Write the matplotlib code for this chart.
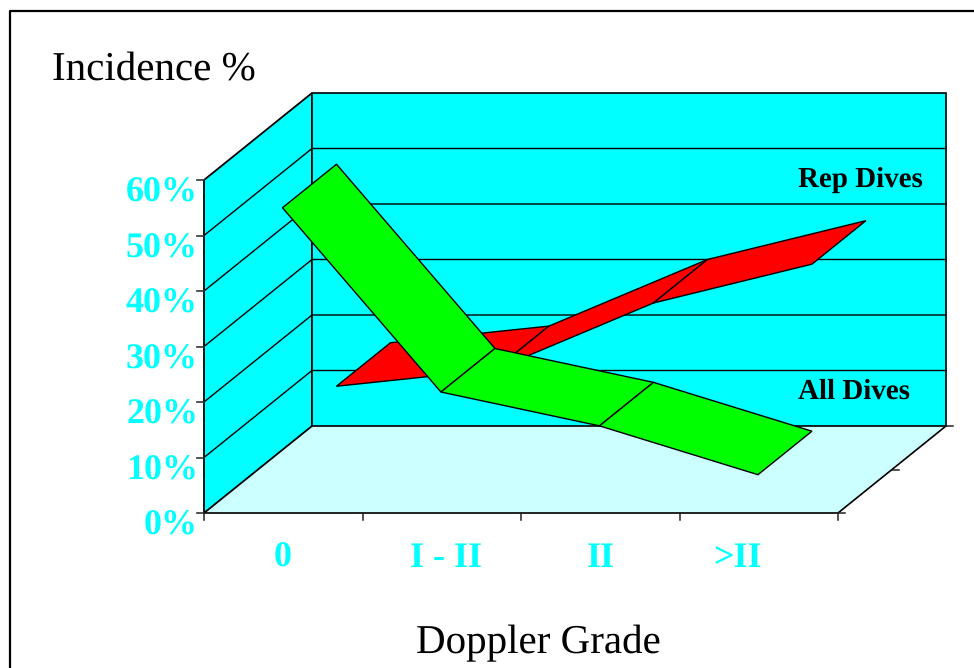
import matplotlib
matplotlib.use("Agg")
import matplotlib.pyplot as plt
from matplotlib.patches import Polygon

plt.rcParams['text.hinting'] = 'no_hinting'
plt.rcParams['text.hinting_factor'] = 1

categories = ['0', 'I - II', 'II', '>II']
all_dives = [55, 21.8, 15.7, 6.9]
rep_dives = [15, 18, 30, 37]
y_ticks = [0, 10, 20, 30, 40, 50, 60]

# pixel geometry of the fake 3D box
X0, Y0 = 204, 513
CAT_W = 158.5
DX, DY = 108, -87
PX_PER_PCT = 5.55
LABEL_NUDGE = [-1, 4, 1, -21]

CYAN = '#00ffff'
FLOOR = '#ccffff'
SERIF = 'Liberation Serif'


def proj(cat, depth, value):
    """cat in category widths, depth 0 (front) to 1 (back), value in %."""
    return (X0 + cat * CAT_W + depth * DX,
            Y0 + depth * DY - value * PX_PER_PCT)


def ribbon(ax, values, d_front, d_back, color, z):
    for i in range(len(values) - 1):
        pts = [proj(i + 0.495, d_front, values[i]),
               proj(i + 1.495, d_front, values[i + 1]),
               proj(i + 1.495, d_back, values[i + 1]),
               proj(i + 0.495, d_back, values[i])]
        ax.add_patch(Polygon(pts, closed=True, facecolor=color,
                             edgecolor='black', lw=1.0, zorder=z + i * 0.01))


fig = plt.figure(figsize=(9.74, 6.68), dpi=100)
ax = fig.add_axes([0, 0, 1, 1])
ax.set_xlim(0, 974)
ax.set_ylim(668, 0)
ax.axis('off')

# outer frame, runs off the image on the right and bottom
ax.plot([9.5, 9.5, 974], [668, 11, 11], color='black', lw=1.6, zorder=1)

top = y_ticks[-1]
n = len(categories)
ax.add_patch(Polygon([proj(0, 0, 0), proj(n, 0, 0), proj(n, 1, 0), proj(0, 1, 0)],
                     facecolor=FLOOR, edgecolor='none', zorder=2))
ax.add_patch(Polygon([proj(0, 0, 0), proj(0, 1, 0), proj(0, 1, top), proj(0, 0, top)],
                     facecolor=CYAN, edgecolor='black', lw=1.3, zorder=2))
ax.add_patch(Polygon([proj(0, 1, 0), proj(n, 1, 0), proj(n, 1, top), proj(0, 1, top)],
                     facecolor=CYAN, edgecolor='black', lw=1.2, zorder=2))

for v in y_ticks[1:-1]:
    a, b, c = proj(0, 0, v), proj(0, 1, v), proj(n, 1, v)
    ax.plot([a[0], b[0], c[0]], [a[1], b[1], c[1]], color='black', lw=1.0, zorder=3)

# front and right floor edges
a, b, c = proj(0, 0, 0), proj(n, 0, 0), proj(n, 1, 0)
ax.plot([a[0], b[0], c[0]], [a[1], b[1], c[1]], color='black', lw=1.2, zorder=3)

# ticks
for v in y_ticks:
    x, y = proj(0, 0, v)
    ax.plot([x - 7, x], [y, y], color='#333333', lw=1.2, zorder=3)
    ax.text(198, y + 13, f"{v}%", color=CYAN, fontsize=25.8, fontweight='bold',
            family=SERIF, ha='right', va='center')
for i in range(n + 1):
    x, y = proj(i, 0, 0)
    ax.plot([x, x], [y, y + 7], color='#222222', lw=1.1, zorder=3)
for d in [0, 0.5, 1]:
    x, y = proj(n, d, 0)
    ax.plot([x, x + 7], [y, y], color='#222222', lw=1.1, zorder=3)

ribbon(ax, rep_dives, 0.5, 1.0, '#ff0000', 4)
ribbon(ax, all_dives, 0.0, 0.5, '#00ff00', 5)

for i, lab in enumerate(categories):
    ax.text(proj(i + 0.5, 0, 0)[0] + LABEL_NUDGE[i], 558, lab, color=CYAN, fontsize=25.8,
            fontweight='bold', family=SERIF, ha='center', va='center')

ax.text(52, 71, "Incidence %", fontsize=29.5, family=SERIF, ha='left', va='center')
ax.text(538, 643, "Doppler Grade", fontsize=29.5, family=SERIF, ha='center', va='center')
ax.text(798, 180, "Rep Dives", fontsize=21, fontweight='bold', family=SERIF,
        ha='left', va='center', zorder=6)
ax.text(798, 392, "All Dives", fontsize=21, fontweight='bold', family=SERIF,
        ha='left', va='center', zorder=6)

fig.savefig("out.png", dpi=100)
plt.close(fig)
